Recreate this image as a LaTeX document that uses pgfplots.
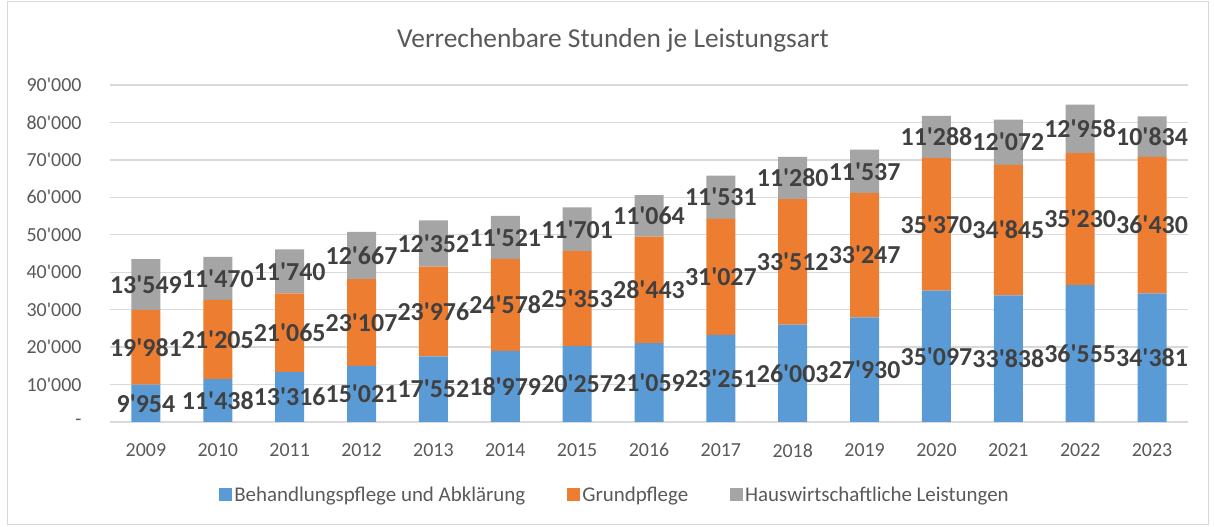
\documentclass[border=0pt]{standalone}
\usepackage{pgfplots}
\pgfplotsset{compat=1.18}
\usepackage{pgfplotstable}
\usepackage{fontspec}
\setmainfont{Carlito}
\definecolor{cBlue}{HTML}{5B9BD5}
\definecolor{cOrange}{HTML}{ED7D31}
\definecolor{cGrey}{HTML}{A5A5A5}
\definecolor{cGrid}{HTML}{D9D9D9}
\definecolor{cTick}{HTML}{595959}
\definecolor{cLab}{HTML}{404040}
\pgfplotstableread{
x b o g
0 9954 19981 13549
1 11438 21205 11470
2 13316 21065 11740
3 15021 23107 12667
4 17552 23976 12352
5 18979 24578 11521
6 20257 25353 11701
7 21059 28443 11064
8 23251 31027 11531
9 26003 33512 11280
10 27930 33247 11537
11 35097 35370 11288
12 33838 34845 12072
13 36555 35230 12958
14 34381 36430 10834
}\data
\begin{document}
\begin{tikzpicture}
\useasboundingbox (0bp,0bp) rectangle (1214bp,527bp);
\draw[cGrid, line width=1bp] (7bp,2bp) rectangle (1208bp,525bp);
\node[font=\fontsize{27.5}{32}\selectfont, text=cTick] at (613bp,487bp) {Verrechenbare Stunden je Leistungsart};
\begin{axis}[
  at={(110bp,105bp)}, anchor=south west, scale only axis,
  width=1078bp, height=337bp,
  ybar stacked, bar width=29bp,
  xmin=-0.5, xmax=14.5, ymin=0, ymax=90000,
  scaled y ticks=false,
  xtick={0,...,14},
  xticklabels={2009,2010,2011,2012,2013,2014,2015,2016,2017,2018,2019,2020,2021,2022,2023},
  ytick={0,10000,...,90000},
  yticklabels={-,10\textquotesingle000,20\textquotesingle000,30\textquotesingle000,40\textquotesingle000,50\textquotesingle000,60\textquotesingle000,70\textquotesingle000,80\textquotesingle000,90\textquotesingle000},
  ymajorgrids, grid style={cGrid, line width=1.3bp},
  axis line style={draw=none},
  major tick length=0pt,
  tick label style={font=\fontsize{20}{24}\selectfont, text=cTick},
  xticklabel style={yshift=-18bp},
  yticklabel style={xshift=-25bp},
  legend columns=-1,
  legend style={at={(0.4685,-0.2166)}, anchor=center, draw=none, fill=none,
    font=\fontsize{21}{25}\selectfont, text=cTick,
    /tikz/every even column/.append style={column sep=40bp}},
  legend image code/.code={\fill[#1] (0bp,-6.5bp) rectangle (13bp,6.5bp);},
]
\addplot[fill=cBlue, draw=none] table[x=x,y=b]{\data};
\addplot[fill=cOrange, draw=none] table[x=x,y=o]{\data};
\addplot[fill=cGrey, draw=none] table[x=x,y=g]{\data};
\legend{Behandlungspflege und Abklärung,Grundpflege,Hauswirtschaftliche Leistungen}
\end{axis}
\begin{axis}[
  at={(110bp,105bp)}, anchor=south west, scale only axis,
  width=1078bp, height=337bp,
  xmin=-0.5, xmax=14.5, ymin=0, ymax=90000,
  hide axis, clip=false,
  point meta=explicit,
  nodes near coords,
  /pgf/number format/.cd, fixed, precision=0, 1000 sep={\textquotesingle}, assume math mode=true,
  /pgfplots/.cd,
  every node near coord/.append style={anchor=center, inner sep=0pt,
    font=\bfseries\fontsize{26}{30}\selectfont, text=cLab},
]
\addplot[draw=none, mark=none] table[x=x, y expr=\thisrow{b}/2, meta=b]{\data};
\addplot[draw=none, mark=none] table[x=x, y expr=\thisrow{b}+\thisrow{o}/2, meta=o]{\data};
\addplot[draw=none, mark=none] table[x=x, y expr=\thisrow{b}+\thisrow{o}+\thisrow{g}/2, meta=g]{\data};
\end{axis}
\end{tikzpicture}
\end{document}
